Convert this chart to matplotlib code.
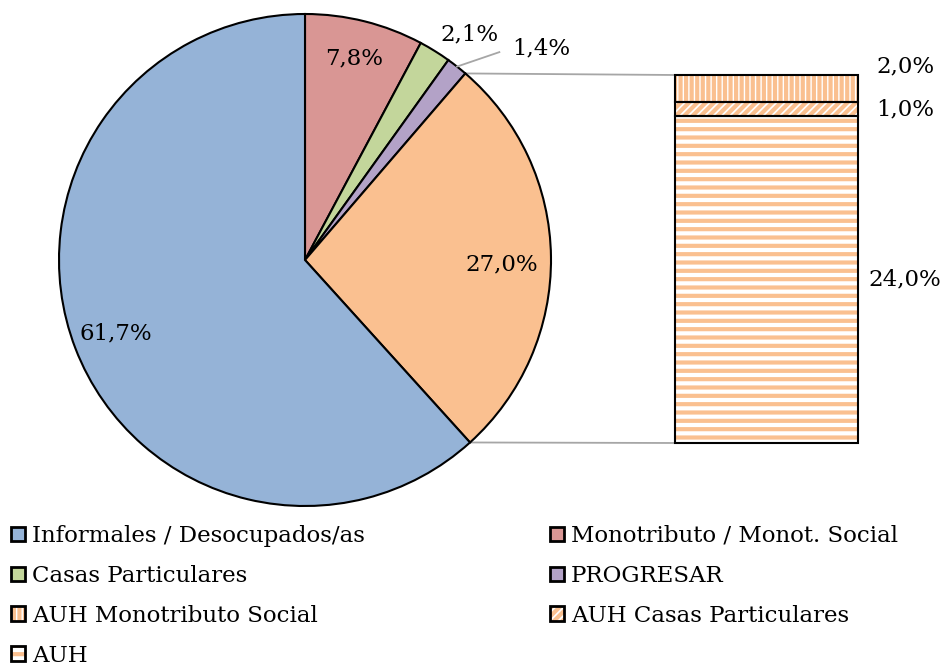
import matplotlib
matplotlib.use("Agg")
import matplotlib.pyplot as plt
from matplotlib.patches import Patch, ConnectionPatch
import numpy as np

# ── Data ──────────────────────────────────────
PIE_LABELS = ["Monotributo / Monot. Social", "Casas Particulares", "PROGRESAR",
              "AUH (total)", "Informales / Desocupados/as"]
PIE_VALUES = [7.8, 2.1, 1.4, 27.0, 61.7]

BAR_LABELS = ["AUH", "AUH Casas Particulares", "AUH Monotributo Social"]  # bottom -> top
BAR_VALUES = [24.0, 1.0, 2.0]

# ── Style ─────────────────────────────────────
PIE_COLORS = ["#D99694", "#C3D69B", "#B3A2C7", "#FAC090", "#95B3D7"]
ORANGE = "#FAC090"
BAR_HATCHES = ["--", "////", "|||"]
# label positions (pie data units) for pie slices
PIE_LABEL_POS = [(0.20, 0.82), (0.67, 0.915), (0.96, 0.86), (0.80, -0.02), (-0.77, -0.30)]
BAR_LABEL_DY = [0, 0, 1.6]

FONT = "DejaVu Serif"
FS = 16.5
plt.rcParams["font.family"] = FONT
plt.rcParams["hatch.color"] = ORANGE
plt.rcParams["hatch.linewidth"] = 3.0


def fmt(v):
    return f"{v:.1f}".replace(".", ",") + "%"


W, H = 948, 672
fig = plt.figure(figsize=(W / 100, H / 100), dpi=100)

# pie axes: center (305,260) px, radius 246 px
cx, cy, r = 305, 260, 246
ax = fig.add_axes([(cx - r) / W, (H - cy - r) / H, 2 * r / W, 2 * r / H])
wedges, _ = ax.pie(PIE_VALUES, colors=PIE_COLORS, startangle=90, counterclock=False,
                   radius=1, wedgeprops=dict(edgecolor="black", linewidth=1.5))
ax.set_xlim(-1, 1)
ax.set_ylim(-1, 1)
ax.set_aspect("equal")
ax.axis("off")

for (lx, ly), v in zip(PIE_LABEL_POS, PIE_VALUES):
    ax.text(lx, ly, fmt(v), ha="center", va="center", fontsize=FS, clip_on=False)

# leader line for PROGRESAR
w = wedges[2]
mid = np.deg2rad((w.theta1 + w.theta2) / 2)
ax.plot([np.cos(mid), 0.79], [np.sin(mid), 0.845], color="#A6A6A6", lw=1.3, clip_on=False)

# bar axes: x 675..858, y 75..443 px
bx0, bx1, by0, by1 = 675, 858, 75, 443
bax = fig.add_axes([bx0 / W, (H - by1) / H, (bx1 - bx0) / W, (by1 - by0) / H])
bottom = 0
for v, hatch, dy in zip(BAR_VALUES, BAR_HATCHES, BAR_LABEL_DY):
    bax.bar(0, v, width=1, bottom=bottom, color="white", hatch=hatch, linewidth=0)
    bax.bar(0, v, width=1, bottom=bottom, fill=False, edgecolor="black", linewidth=1.5,
            clip_on=False, zorder=3)
    bax.text(0.757, bottom + v / 2 + dy, fmt(v), ha="center", va="center",
             fontsize=FS, clip_on=False)
    bottom += v
bax.set_xlim(-0.5, 0.5)
bax.set_ylim(0, sum(BAR_VALUES))
bax.axis("off")

# connector lines
aw = wedges[3]
for ang, yb in [(aw.theta2, sum(BAR_VALUES)), (aw.theta1, 0)]:
    a = np.deg2rad(ang)
    con = ConnectionPatch(xyA=(np.cos(a), np.sin(a)), coordsA=ax.transData,
                          xyB=(-0.5, yb), coordsB=bax.transData,
                          color="#A6A6A6", lw=1.3)
    con.set_zorder(0)
    fig.add_artist(con)


# legend
def solid(c):
    return Patch(facecolor=c, edgecolor="black", linewidth=2)


def hatched(h):
    return (Patch(facecolor="white", hatch=h, linewidth=0),
            Patch(fill=False, edgecolor="black", linewidth=2))


handles = [solid(PIE_COLORS[4]), solid(PIE_COLORS[1]), hatched(BAR_HATCHES[2]), hatched(BAR_HATCHES[0]),
           solid(PIE_COLORS[0]), solid(PIE_COLORS[2]), hatched(BAR_HATCHES[1])]
labels = [PIE_LABELS[4], PIE_LABELS[1], BAR_LABELS[2], BAR_LABELS[0],
          PIE_LABELS[0], PIE_LABELS[2], BAR_LABELS[1]]
fig.legend(handles, labels, ncol=2, loc="upper left", bbox_to_anchor=(11 / W, 1 - 525 / H),
           frameon=False, fontsize=FS, handlelength=0.6, handleheight=0.6,
           handletextpad=0.3, columnspacing=8.1, labelspacing=0.78, borderpad=0,
           borderaxespad=0)

fig.savefig("out.png", dpi=100)
